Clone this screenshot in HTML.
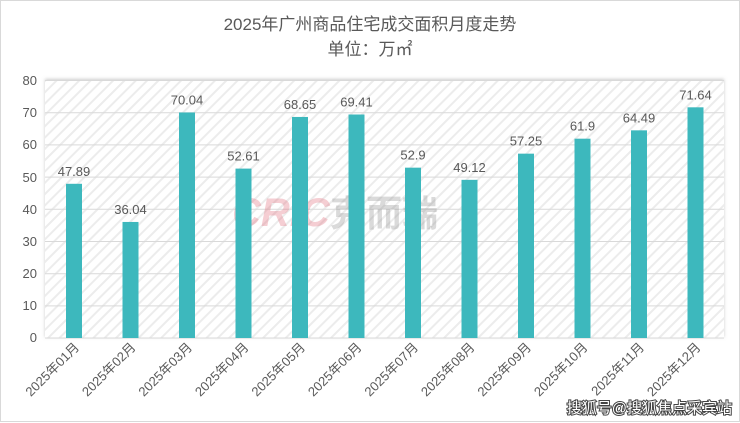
<!DOCTYPE html>
<html><head><meta charset="utf-8"><style>
body{margin:0;background:#fff;}
svg{display:block;font-family:"Liberation Sans","Noto Sans CJK SC",sans-serif;}
</style></head><body>
<svg width="740" height="423" viewBox="0 0 740 423" xmlns="http://www.w3.org/2000/svg">
<defs>
<pattern id="h" width="8" height="8" patternUnits="userSpaceOnUse" patternTransform="rotate(45)">
<rect width="8" height="8" fill="#fff"/><rect width="2" height="8" fill="#ececec"/>
</pattern>
<filter id="sh" x="-5%" y="-5%" width="110%" height="110%"><feDropShadow dx="0" dy="-1" stdDeviation="1.5" flood-color="#999" flood-opacity="0.5"/></filter>
</defs>
<rect x="0.5" y="0.5" width="739" height="421" fill="#fff" stroke="#d9d9d9"/>
<text x="370" y="30" text-anchor="middle" font-size="17" fill="#595959">2025年广州商品住宅成交面积月度走势</text>
<text x="370" y="55" text-anchor="middle" font-size="17" fill="#595959">单位：万㎡</text>
<rect x="45" y="80" width="679" height="258" fill="url(#h)" filter="url(#sh)"/>
<g stroke="#d9d9d9" stroke-width="1">
<line x1="45" x2="724" y1="80.5" y2="80.5"/><line x1="45" x2="724" y1="112.7" y2="112.7"/>
<line x1="45" x2="724" y1="144.9" y2="144.9"/><line x1="45" x2="724" y1="177.1" y2="177.1"/>
<line x1="45" x2="724" y1="209.3" y2="209.3"/><line x1="45" x2="724" y1="241.5" y2="241.5"/>
<line x1="45" x2="724" y1="273.7" y2="273.7"/><line x1="45" x2="724" y1="305.9" y2="305.9"/>
<line x1="45" x2="724" y1="338" y2="338"/>
</g>
<g font-size="13" fill="#595959" text-anchor="end">
<text x="37" y="85">80</text><text x="37" y="117">70</text><text x="37" y="149">60</text><text x="37" y="182">50</text>
<text x="37" y="214">40</text><text x="37" y="246">30</text><text x="37" y="278">20</text><text x="37" y="310">10</text><text x="37" y="342">0</text>
</g>
<text x="232" y="226" font-size="40" font-weight="bold" font-style="italic" fill="#e06070" opacity="0.3">CRIC</text>
<text x="330" y="226" font-size="36" font-weight="bold" fill="#888" opacity="0.3">克而瑞</text>
<g fill="#3db8bd" id="bars"></g>
<g id="lab" font-size="13" fill="#595959" text-anchor="middle"></g>
<g id="xl" font-size="13" fill="#595959" text-anchor="end"></g>
<text x="732" y="413" text-anchor="end" font-size="15" fill="#fff" stroke="#444" stroke-width="2" paint-order="stroke">搜狐号@搜狐焦点采宾站</text>
<script>
var v=[47.89,36.04,70.04,52.61,68.65,69.41,52.9,49.12,57.25,61.9,64.49,71.64];
var b=document.getElementById('bars'),l=document.getElementById('lab'),x=document.getElementById('xl'),ns='http://www.w3.org/2000/svg';
v.forEach(function(d,i){var c=74+i*56.5,h=d*3.22,y=338-h;
var r=document.createElementNS(ns,'rect');r.setAttribute('x',c-8);r.setAttribute('y',y);r.setAttribute('width',16);r.setAttribute('height',h);b.appendChild(r);
var t=document.createElementNS(ns,'text');t.setAttribute('x',c);t.setAttribute('y',y-8);t.textContent=String(d);l.appendChild(t);
var m=document.createElementNS(ns,'text');m.setAttribute('transform','translate('+(c+6)+',348) rotate(-45)');m.textContent='2025年'+(i<9?'0':'')+(i+1)+'月';x.appendChild(m);});
</script>
</svg>
</body></html>
